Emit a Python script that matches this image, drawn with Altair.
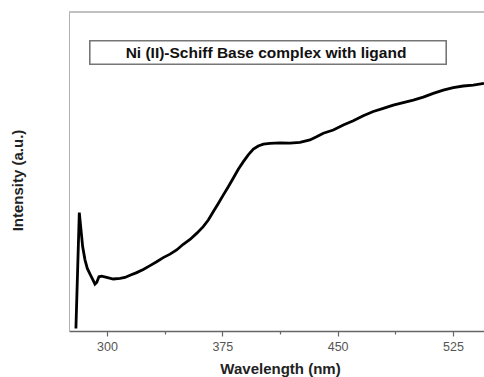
import altair as alt
import pandas as pd

# Data
wavelength = [279.8, 282.0, 283.1, 284.2, 285.7, 287.2, 288.9, 290.7, 292.2, 293.3,
              294.8, 296.5, 299.8, 304.1, 308.5, 311.7, 315.0, 319.3, 323.6, 328.0,
              332.3, 336.6, 341.0, 345.3, 349.6, 354.0, 358.3, 362.6, 365.9, 369.1,
              372.4, 375.6, 378.9, 382.1, 385.4, 388.7, 391.9, 395.2, 398.4, 401.7,
              406.0, 412.5, 419.0, 425.5, 432.0, 436.3, 440.7, 447.2, 453.7, 460.2,
              466.7, 473.2, 479.7, 486.2, 492.7, 499.2, 505.7, 512.2, 518.7, 525.2,
              531.7, 538.2, 545.2]
intensity = [0.008, 0.371, 0.317, 0.264, 0.223, 0.196, 0.179, 0.162, 0.147, 0.152,
             0.170, 0.172, 0.168, 0.163, 0.165, 0.168, 0.175, 0.183, 0.193, 0.205,
             0.217, 0.230, 0.241, 0.254, 0.272, 0.287, 0.306, 0.327, 0.348, 0.374,
             0.400, 0.426, 0.452, 0.479, 0.507, 0.531, 0.552, 0.570, 0.580, 0.586,
             0.588, 0.590, 0.589, 0.591, 0.599, 0.609, 0.620, 0.630, 0.646, 0.659,
             0.675, 0.688, 0.698, 0.708, 0.716, 0.724, 0.733, 0.745, 0.755, 0.763,
             0.768, 0.771, 0.776]
x_ticks = [300, 337.5, 375, 412.5, 450, 487.5, 525]
legend_label = "Ni (II)-Schiff Base complex with ligand"

df = pd.DataFrame({"wavelength": wavelength, "intensity": intensity})

FONT = "Liberation Sans"
W, H = 415, 319

x_enc = alt.X(
    "wavelength:Q",
    scale=alt.Scale(domain=[275.3, 545.2], nice=False, zero=False),
    axis=alt.Axis(
        values=x_ticks,
        labelExpr="datum.value % 75 == 0 ? datum.label : ''",
        tickSize=alt.condition("datum.value % 75 == 0", alt.value(5), alt.value(3)),
        tickColor="#666666",
        tickWidth=1.2,
        domainColor="#666666",
        domainWidth=1.5,
        grid=False,
        labelFont=FONT,
        labelFontSize=12.5,
        labelColor="#555555",
        labelPadding=4,
        title="Wavelength (nm)",
        titleFont=FONT,
        titleFontSize=15,
        titleFontWeight="bold",
        titleColor="#222222",
        titleBaseline="alphabetic",
        titleX=211,
        titleY=42,
    ),
)
y_enc = alt.Y(
    "intensity:Q",
    scale=alt.Scale(domain=[0, 1], nice=False, zero=False),
    axis=alt.Axis(
        labels=False,
        ticks=False,
        grid=False,
        domain=True,
        domainColor="#b0b0b0",
        domainWidth=1,
        title="Intensity (a.u.)",
        titleFont=FONT,
        titleFontSize=15,
        titleFontWeight="bold",
        titleColor="#222222",
        titleBaseline="middle",
        titleX=-51.5,
        titleY=168,
    ),
)

line = alt.Chart(df).mark_line(color="black", strokeWidth=2.8, clip=True).encode(
    x=x_enc, y=y_enc
)

top_border = alt.Chart(df).mark_rule(color="#c0c0c0", strokeWidth=1).encode(
    x=alt.value(0), x2=alt.value(W), y=alt.value(0)
)

legend_box = alt.Chart(df).mark_rect(
    fill="white", stroke="#777777", strokeWidth=1.2
).encode(
    x=alt.value(21), x2=alt.value(377), y=alt.value(29), y2=alt.value(52)
)

legend_text = alt.Chart(pd.DataFrame({"t": [legend_label]})).mark_text(
    font=FONT, fontSize=15.5, fontWeight="bold", color="#111111",
    align="center", baseline="middle"
).encode(
    x=alt.value(197), y=alt.value(41), text="t:N"
)

chart = alt.layer(top_border, line, legend_box, legend_text).properties(
    width=W,
    height=H,
    autosize=alt.AutoSizeParams(type="none"),
    padding={"left": 69, "top": 12, "right": 0, "bottom": 46},
    background="white",
).configure_view(strokeWidth=0)

chart.save("out.html", embed_options={"renderer": "svg", "actions": False})
